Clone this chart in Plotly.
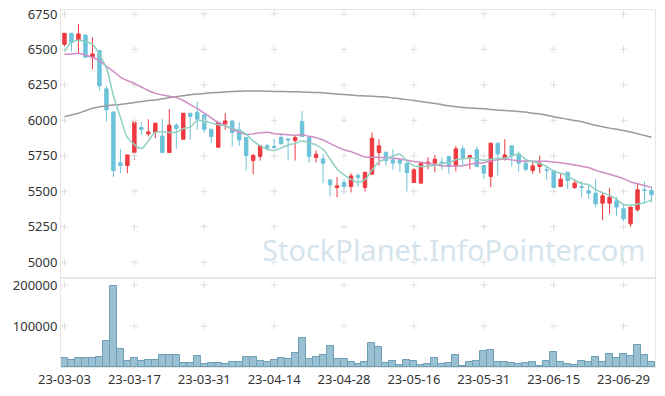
import plotly.graph_objects as go

dates = [
    "23-03-03", "23-03-06", "23-03-07", "23-03-08", "23-03-09", "23-03-10", "23-03-13", "23-03-14",
    "23-03-15", "23-03-16", "23-03-17", "23-03-20", "23-03-21", "23-03-22", "23-03-23", "23-03-24",
    "23-03-27", "23-03-28", "23-03-29", "23-03-30", "23-03-31", "23-04-03", "23-04-04", "23-04-05",
    "23-04-06", "23-04-07", "23-04-10", "23-04-11", "23-04-12", "23-04-13", "23-04-14", "23-04-17",
    "23-04-18", "23-04-19", "23-04-20", "23-04-21", "23-04-24", "23-04-25", "23-04-26", "23-04-27",
    "23-04-28", "23-05-02", "23-05-03", "23-05-04", "23-05-08", "23-05-09", "23-05-10", "23-05-11",
    "23-05-12", "23-05-15", "23-05-16", "23-05-17", "23-05-18", "23-05-19", "23-05-22", "23-05-23",
    "23-05-24", "23-05-25", "23-05-26", "23-05-30", "23-05-31", "23-06-01", "23-06-02", "23-06-05",
    "23-06-07", "23-06-08", "23-06-09", "23-06-12", "23-06-13", "23-06-14", "23-06-15", "23-06-16",
    "23-06-19", "23-06-20", "23-06-21", "23-06-22", "23-06-23", "23-06-26", "23-06-27", "23-06-28",
    "23-06-29", "23-06-30", "23-07-03", "23-07-04", "23-07-05",
]

open_ = [
    6536, 6614, 6567, 6602, 6445, 6492, 6222, 6059, 5700, 5681,
    5773, 5949, 5904, 5914, 5890, 5773, 5966, 5867, 6050, 6057,
    6038, 5937, 5810, 5975, 5996, 5933, 5879, 5716, 5745, 5820,
    5815, 5879, 5869, 5857, 5991, 5879, 5738, 5728, 5580, 5526,
    5561, 5533, 5611, 5526, 5620, 5773, 5775, 5721, 5721, 5698,
    5561, 5557, 5693, 5698, 5705, 5745, 5681, 5799, 5738, 5792,
    5681, 5604, 5839, 5726, 5820, 5763, 5698, 5646, 5674, 5651,
    5646, 5533, 5634, 5526, 5533, 5503, 5486, 5416, 5416, 5432,
    5376, 5270, 5369, 5510, 5505,
]
high = [
    6614, 6614, 6680, 6602, 6586, 6492, 6243, 6059, 5799, 5756,
    5987, 5987, 6008, 5980, 6008, 6078, 5980, 6050, 6050, 6132,
    6038, 5937, 5984, 6050, 5996, 5987, 5879, 5763, 5822, 5832,
    5869, 5909, 5869, 5893, 6066, 5879, 5787, 5763, 5580, 5599,
    5585, 5627, 5627, 5634, 5914, 5867, 5775, 5796, 5721, 5698,
    5662, 5698, 5740, 5756, 5738, 5745, 5820, 5820, 5752, 5815,
    5681, 5839, 5839, 5867, 5820, 5780, 5726, 5716, 5752, 5674,
    5646, 5623, 5634, 5585, 5569, 5538, 5585, 5491, 5522, 5458,
    5404, 5388, 5557, 5569, 5533,
]
low = [
    6508, 6485, 6473, 6438, 6360, 6210, 5991, 5599, 5627, 5627,
    5721, 5897, 5886, 5874, 5773, 5773, 5799, 5862, 5862, 5933,
    5914, 5839, 5810, 5933, 5815, 5820, 5646, 5620, 5716, 5787,
    5799, 5834, 5721, 5716, 5886, 5702, 5702, 5557, 5463, 5458,
    5486, 5491, 5533, 5498, 5620, 5681, 5681, 5651, 5632, 5498,
    5561, 5557, 5655, 5632, 5651, 5623, 5639, 5681, 5655, 5674,
    5587, 5529, 5611, 5716, 5674, 5639, 5639, 5623, 5627, 5580,
    5522, 5533, 5515, 5515, 5458, 5444, 5388, 5294, 5341, 5327,
    5287, 5251, 5357, 5416, 5420,
]
close = [
    6614, 6548, 6609, 6445, 6468, 6243, 6074, 5646, 5681, 5756,
    5987, 5935, 5918, 5980, 5773, 5966, 5942, 6050, 6027, 6008,
    5937, 5886, 5984, 5996, 5914, 5862, 5752, 5752, 5822, 5803,
    5808, 5834, 5862, 5879, 5886, 5745, 5761, 5698, 5545, 5538,
    5533, 5608, 5597, 5634, 5874, 5820, 5716, 5698, 5698, 5632,
    5651, 5698, 5705, 5726, 5698, 5681, 5799, 5738, 5752, 5674,
    5627, 5839, 5763, 5756, 5752, 5698, 5655, 5679, 5698, 5646,
    5526, 5585, 5576, 5557, 5526, 5486, 5411, 5468, 5458, 5388,
    5306, 5388, 5510, 5505, 5475,
]
volume = [
    21100, 17100, 21100, 21100, 21100, 23600, 63400, 197600, 43100, 14600,
    21100, 14600, 17100, 17100, 28500, 28500, 28500, 8900, 8900, 26800,
    6500, 8900, 8900, 6500, 11400, 11400, 23600, 23600, 14600, 11400,
    17100, 21100, 18700, 33300, 69900, 18700, 23600, 28500, 50400, 18700,
    18700, 11400, 6500, 11400, 57700, 48000, 8900, 13800, 4100, 16300,
    13800, 5700, 8100, 21100, 6500, 8900, 28500, 3300, 11400, 13800,
    38200, 40700, 11400, 11400, 8900, 6500, 8900, 11400, 1600, 13800,
    35800, 11400, 6500, 4100, 13800, 11400, 23600, 11400, 30900, 21100,
    30900, 26000, 52800, 28500, 11400,
]
ma5 = [
    6485, 6550, 6565, 6555, 6537, 6463, 6368, 6175, 6022, 5880,
    5829, 5801, 5855, 5915, 5919, 5914, 5916, 5942, 5952, 5999,
    5993, 5982, 5968, 5962, 5943, 5928, 5902, 5855, 5820, 5798,
    5787, 5804, 5826, 5837, 5854, 5841, 5827, 5794, 5727, 5657,
    5615, 5584, 5564, 5582, 5649, 5707, 5728, 5748, 5761, 5713,
    5679, 5675, 5677, 5682, 5696, 5702, 5722, 5728, 5734, 5729,
    5718, 5726, 5731, 5732, 5747, 5762, 5725, 5708, 5696, 5675,
    5641, 5627, 5606, 5578, 5554, 5546, 5511, 5490, 5470, 5442,
    5406, 5402, 5410, 5419, 5437,
]
ma20 = [
    6466, 6468, 6472, 6460, 6445, 6420, 6380, 6345, 6305, 6280,
    6260, 6235, 6210, 6190, 6178, 6170, 6160, 6140, 6110, 6084,
    6050, 6017, 5985, 5963, 5935, 5916, 5900, 5905, 5912, 5915,
    5906, 5901, 5898, 5893, 5899, 5887, 5878, 5861, 5837, 5813,
    5793, 5779, 5760, 5742, 5740, 5738, 5736, 5733, 5727, 5718,
    5710, 5704, 5696, 5688, 5679, 5676, 5677, 5679, 5690, 5697,
    5701, 5713, 5721, 5727, 5721, 5715, 5712, 5711, 5711, 5712,
    5706, 5700, 5693, 5685, 5676, 5667, 5647, 5634, 5619, 5605,
    5589, 5566, 5553, 5541, 5527,
]
ma120 = [
    6027, 6038, 6050, 6068, 6085, 6095, 6102, 6108, 6112, 6118,
    6125, 6132, 6139, 6144, 6152, 6160, 6167, 6174, 6180, 6185,
    6190, 6194, 6197, 6200, 6203, 6205, 6206, 6206, 6206, 6205,
    6204, 6203, 6202, 6201, 6200, 6198, 6196, 6194, 6190, 6186,
    6182, 6178, 6174, 6172, 6170, 6167, 6164, 6158, 6152, 6146,
    6140, 6132, 6125, 6118, 6110, 6103, 6096, 6091, 6087, 6084,
    6081, 6077, 6073, 6069, 6066, 6062, 6058, 6050, 6045, 6035,
    6025, 6016, 6008, 5999, 5990, 5978, 5965, 5955, 5945, 5937,
    5928, 5917, 5905, 5893, 5881,
]
price_ticks = [5000, 5250, 5500, 5750, 6000, 6250, 6500, 6750]
volume_ticks = [100000, 200000]
tick_dates = dates[::10]

RED = "#ee3a40"
BLUE = "#6cc2d8"
GRID = "#dedede"
FRAME = "#e6e6e6"
FONT = "Noto Sans"

fig = go.Figure()

# cross-shaped grid marks at tick intersections
fig.add_trace(go.Scatter(
    x=[d for d in tick_dates for _ in price_ticks],
    y=[p for _ in tick_dates for p in price_ticks],
    mode="markers", xaxis="x", yaxis="y", hoverinfo="skip", showlegend=False,
    marker=dict(symbol="cross-thin", size=5, line=dict(color=GRID, width=1)),
))
fig.add_trace(go.Scatter(
    x=[d for d in tick_dates for _ in volume_ticks],
    y=[v for _ in tick_dates for v in volume_ticks],
    mode="markers", xaxis="x2", yaxis="y2", hoverinfo="skip", showlegend=False,
    marker=dict(symbol="cross-thin", size=5, line=dict(color=GRID, width=1)),
))

fig.add_trace(go.Scatter(x=dates, y=ma120, mode="lines", xaxis="x", yaxis="y",
                         line=dict(color="#9a9a9a", width=1.5, shape="spline"),
                         hoverinfo="skip", showlegend=False))
fig.add_trace(go.Candlestick(
    x=dates, open=open_, high=high, low=low, close=close, xaxis="x", yaxis="y",
    increasing=dict(line=dict(color=RED, width=1), fillcolor=RED),
    decreasing=dict(line=dict(color=BLUE, width=1), fillcolor=BLUE),
    whiskerwidth=0, showlegend=False, hoverinfo="skip",
))
fig.add_trace(go.Scatter(x=dates, y=ma20, mode="lines", xaxis="x", yaxis="y",
                         line=dict(color="#cf8cc6", width=1.5, shape="spline"),
                         hoverinfo="skip", showlegend=False))
fig.add_trace(go.Scatter(x=dates, y=ma5, mode="lines", xaxis="x", yaxis="y",
                         line=dict(color="#8fd0c2", width=1.5, shape="spline"),
                         hoverinfo="skip", showlegend=False))

fig.add_trace(go.Bar(
    x=dates, y=volume, xaxis="x2", yaxis="y2", showlegend=False, hoverinfo="skip",
    marker=dict(color="#9ac1d2", line=dict(color="#6e9fb7", width=1)),
))

# the page body adds an 8px margin, so the figure is sized to sit inside it
split = 89 / 357
fig.update_layout(
    width=657, height=388,
    margin=dict(l=53, r=10, t=2, b=29, autoexpand=False),
    paper_bgcolor="white", plot_bgcolor="white",
    font=dict(family=FONT, size=13, color="#333333"),
    bargap=0,
    xaxis=dict(domain=[0, 1], anchor="y", type="category", categoryorder="array",
               categoryarray=dates, range=[-0.5, len(dates) - 0.5],
               showticklabels=False, showgrid=False, zeroline=False, ticks="",
               showline=True, linecolor=FRAME, mirror=True, automargin=False,
               rangeslider=dict(visible=False)),
    yaxis=dict(domain=[split, 1], anchor="x", range=[4888, 6778],
               tickvals=price_ticks, showgrid=False, zeroline=False, ticks="",
               ticklabeloverflow="allow",
               showline=True, linecolor=FRAME, mirror=True, automargin=False),
    xaxis2=dict(domain=[0, 1], anchor="y2", type="category", categoryorder="array",
                categoryarray=dates, range=[-0.5, len(dates) - 0.5],
                tickvals=tick_dates, ticktext=tick_dates, tickangle=0,
                ticklabeloverflow="allow",
                showgrid=False, zeroline=False, ticks="", automargin=False,
                showline=True, linecolor=FRAME, mirror=True),
    yaxis2=dict(domain=[0, split], anchor="x2", range=[0, 217000],
                tickvals=volume_ticks, tickformat="d", showgrid=False, zeroline=False,
                ticks="", automargin=False, ticklabeloverflow="allow",
                showline=True, linecolor=FRAME, mirror=True),
    annotations=[dict(
        text="StockPlanet.InfoPointer.com", xref="paper", yref="paper",
        x=0.66, y=0.33, xanchor="center", yanchor="middle", showarrow=False,
        font=dict(family=FONT, size=29, color="#d5e4ec"),
    )],
)

fig.write_html("out.html")
